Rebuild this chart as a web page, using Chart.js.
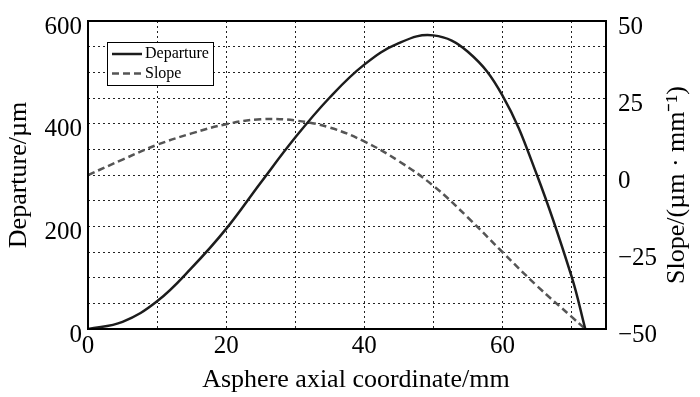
<!DOCTYPE html>
<html>
<head>
<meta charset="utf-8">
<script src="https://cdn.jsdelivr.net/npm/chart.js@4/dist/chart.umd.min.js"></script>
<style>
  body { margin: 0; background: #fff; }
</style>
</head>
<body>
<canvas id="chart" width="700" height="397"></canvas>
<script>
// values
const xs = [0, 5, 10, 15, 20, 25, 30, 35, 40, 45, 50, 55, 60, 65, 70, 72];
const departure = [0, 14, 54, 119, 195, 285, 373, 451, 515, 557, 572, 540, 455, 300, 103, 0];
const slope = [0, 5, 9.8, 13.5, 16.5, 18.1, 17.7, 15.4, 10.9, 4.5, -3.5, -13.8, -25, -36, -46, -50];
const seriesNames = ['Departure', 'Slope'];
const xTitle = 'Asphere axial coordinate/mm';
const yTitle = 'Departure/\u00b5m';
const y1Title = 'Slope/(\u00b5m \u00b7 mm\u207b\u00b9)';

const serif = '"Liberation Serif", "Times New Roman", serif';

// frame, inside legend, x title and right title (reads bottom to top like the left one)
const extras = {
    id: 'extras',
    afterDraw(chart) {
        const ctx = chart.ctx;
        const a = chart.chartArea;
        ctx.save();
        ctx.strokeStyle = '#000';
        ctx.lineWidth = 2;
        ctx.setLineDash([]);
        ctx.strokeRect(a.left, a.top, a.right - a.left, a.bottom - a.top);

        // legend box
        const bx = a.left + 19, by = a.top + 21, bw = 106, bh = 43;
        ctx.fillStyle = '#fff';
        ctx.fillRect(bx, by, bw, bh);
        ctx.lineWidth = 1;
        ctx.strokeRect(bx + 0.5, by + 0.5, bw, bh);
        ctx.font = '16px ' + serif;
        ctx.textBaseline = 'middle';
        chart.data.datasets.forEach((ds, i) => {
            const ly = by + 12 + i * 19.5;
            ctx.strokeStyle = ds.borderColor;
            ctx.lineWidth = ds.borderWidth;
            ctx.setLineDash(ds.borderDash || []);
            ctx.beginPath();
            ctx.moveTo(bx + 5, ly);
            ctx.lineTo(bx + 35, ly);
            ctx.stroke();
            ctx.fillStyle = '#000';
            ctx.fillText(ds.label, bx + 38, ly);
        });

        ctx.setLineDash([]);
        ctx.font = '26px ' + serif;
        ctx.textAlign = 'center';
        ctx.fillStyle = '#000';
        ctx.fillText(xTitle, (a.left + a.right) / 2 + 9, 380);

        ctx.translate(677, (a.top + a.bottom) / 2 + 10);
        ctx.rotate(-Math.PI / 2);
        ctx.fillText(y1Title, 0, 0);
        ctx.restore();
    }
};

const grid = {
    color: '#222',
    lineWidth: 1,
    drawTicks: false
};
const border = { display: false, dash: [2, 3] };

new Chart(document.getElementById('chart').getContext('2d'), {
    type: 'line',
    data: {
        datasets: [
            {
                label: seriesNames[0],
                data: xs.map((x, i) => ({ x: x, y: departure[i] })),
                borderColor: '#1c1c1c',
                borderWidth: 2.5,
                pointRadius: 0,
                tension: 0.4,
                yAxisID: 'y'
            },
            {
                label: seriesNames[1],
                data: xs.map((x, i) => ({ x: x, y: slope[i] })),
                borderColor: '#555',
                borderWidth: 2.5,
                borderDash: [7, 4],
                pointRadius: 0,
                tension: 0.4,
                yAxisID: 'y1'
            }
        ]
    },
    options: {
        responsive: false,
        animation: false,
        layout: { padding: { top: 16, left: 0, right: 0, bottom: 0 } },
        scales: {
            x: {
                type: 'linear',
                min: 0,
                max: 75,
                afterFit: s => { s.height = 68; },
                border: border,
                grid: grid,
                ticks: {
                    stepSize: 10,
                    includeBounds: false,
                    maxRotation: 0,
                    autoSkip: false,
                    padding: 2,
                    color: '#000',
                    font: { family: serif, size: 25 },
                    callback: v => v % 20 === 0 ? v : ''
                }
            },
            y: {
                type: 'linear',
                position: 'left',
                min: 0,
                max: 600,
                afterFit: s => { s.width = 88; },
                border: border,
                grid: grid,
                ticks: {
                    stepSize: 50,
                    autoSkip: false,
                    padding: 6,
                    labelOffset: 6,
                    color: '#000',
                    font: { family: serif, size: 25 },
                    callback: v => v % 200 === 0 ? v : ''
                },
                title: {
                    display: true,
                    text: yTitle,
                    color: '#000',
                    font: { family: serif, size: 26 },
                    padding: { top: 4, bottom: 0 }
                }
            },
            y1: {
                type: 'linear',
                position: 'right',
                min: -50,
                max: 50,
                afterFit: s => { s.width = 94; },
                border: { display: false },
                grid: { display: false },
                ticks: {
                    stepSize: 25,
                    padding: 4,
                    labelOffset: 6,
                    color: '#000',
                    font: { family: serif, size: 25 },
                    callback: v => v < 0 ? '\u2212' + Math.abs(v) : v
                }
            }
        },
        plugins: {
            legend: { display: false },
            tooltip: { enabled: false }
        }
    },
    plugins: [extras]
});
</script>
</body>
</html>
